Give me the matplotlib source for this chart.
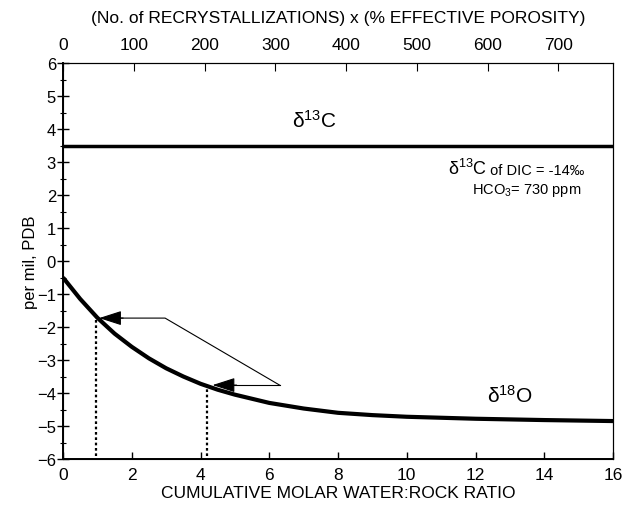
import matplotlib.pyplot as plt
from matplotlib.ticker import MultipleLocator

plt.rcParams['font.family'] = ['Liberation Sans', 'DejaVu Sans']

# data
ratio = [0, 0.5, 1, 1.5, 2, 2.5, 3, 3.5, 4, 4.5, 5, 6, 7, 8, 9, 10, 12, 14, 16]
d18o = [-0.5, -1.15, -1.72, -2.2, -2.6, -2.95, -3.25, -3.5, -3.72, -3.9, -4.05,
        -4.3, -4.47, -4.6, -4.67, -4.72, -4.78, -4.82, -4.85]
d13c_x = [0, 16]
d13c_y = [3.5, 3.5]
drop_x = [0.95, 4.2]
drop_y = [-1.75, -3.8]
top_ticks = [0, 100, 200, 300, 400, 500, 600, 700]
top_max = 777

fig = plt.figure(figsize=(6.25, 5.06), dpi=100)
ax = fig.add_axes([0.1008, 0.0909, 0.88, 0.7826])

ax.plot(ratio, d18o, color='black', lw=3, solid_capstyle='butt')
ax.plot(d13c_x, d13c_y, color='black', lw=2.5)
for xd, yd in zip(drop_x, drop_y):
    ax.plot([xd, xd], [-5.9, yd], color='black', lw=1.6, ls=(0, (1.2, 1.2)))

# arrows
ax.plot([6.3, 2.97, 1.6], [-3.76, -1.73, -1.73], color='black', lw=0.8)
ax.plot([6.3, 4.9], [-3.76, -3.76], color='black', lw=0.8)
for xt, yt in [(1.05, -1.73), (4.35, -3.76)]:
    ax.annotate('', xy=(xt, yt), xytext=(xt + 0.7, yt),
                arrowprops=dict(arrowstyle='-|>,head_length=1.4,head_width=0.45',
                                color='black', lw=0.8, shrinkA=0, shrinkB=0))

ax.text(7.3, 4.27, r'$\mathregular{\delta^{13}C}$', fontsize=15, ha='center', va='center')
ax.text(11.2, 2.65, r'$\mathregular{\delta^{13}C}$', fontsize=13, ha='left', va='baseline')
ax.text(12.3, 2.65, ' of DIC = -14\u2030', fontsize=10.5, ha='left', va='baseline')
ax.text(11.9, 2.05, r'HCO$\mathregular{_3}$= 730 ppm', fontsize=10.5, ha='left', va='baseline')
ax.text(13.0, -4.07, r'$\mathregular{\delta^{18}O}$', fontsize=15, ha='center', va='center')

ax.set_xlim(0, 16)
ax.set_ylim(-6, 6)
ax.xaxis.set_major_locator(MultipleLocator(2))
ax.yaxis.set_major_locator(MultipleLocator(1))
ax.yaxis.set_minor_locator(MultipleLocator(0.5))
ax.tick_params(axis='y', which='major', direction='inout', length=8, width=1, labelsize=12, pad=1)
ax.tick_params(axis='y', which='minor', direction='inout', length=5, width=0.8)
ax.tick_params(axis='x', which='major', direction='in', length=5, width=1, labelsize=12.5, pad=6)
ax.set_xlabel('CUMULATIVE MOLAR WATER:ROCK RATIO', fontsize=12.5, labelpad=2)
ax.set_ylabel('per mil, PDB', fontsize=12, labelpad=-1)
for s in ['left', 'bottom']:
    ax.spines[s].set_linewidth(1.4)
for s in ['top', 'right']:
    ax.spines[s].set_linewidth(0.8)

ax2 = ax.twiny()
ax2.set_xlim(0, top_max)
ax2.set_xticks(top_ticks)
ax2.tick_params(axis='x', direction='in', length=6, width=0.8, labelsize=12.5, pad=8)
ax2.set_xlabel('(No. of RECRYSTALLIZATIONS) x (% EFFECTIVE POROSITY)', fontsize=12.5, labelpad=11)

fig.savefig('out.png', dpi=100)
